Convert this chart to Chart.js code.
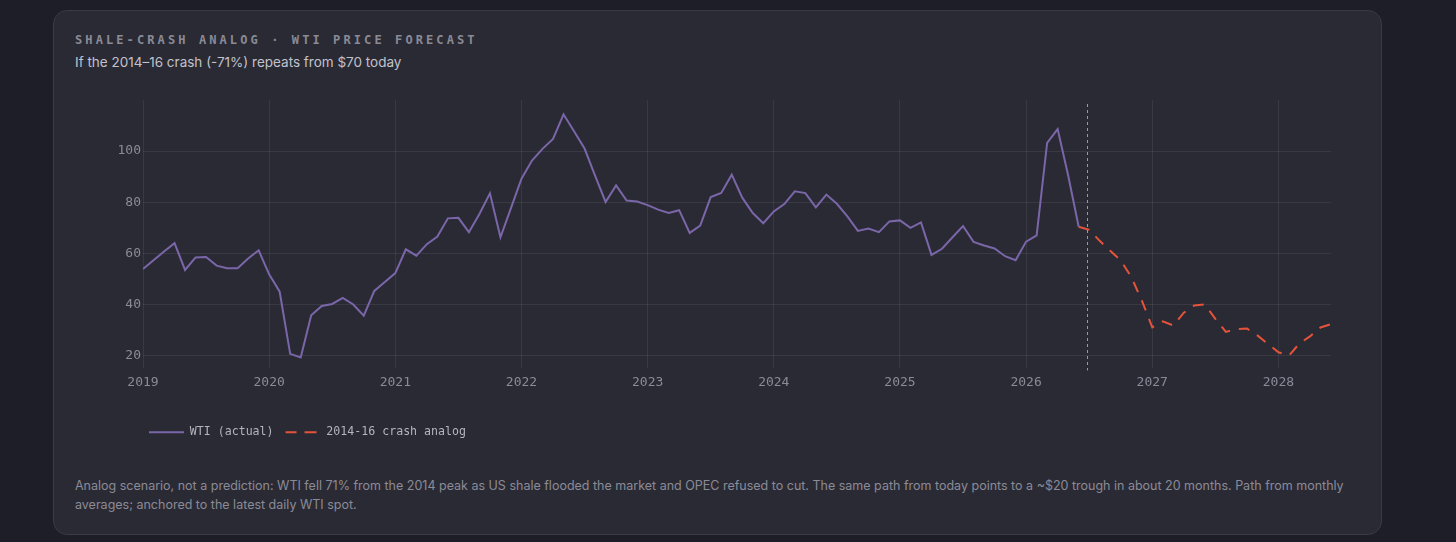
<!DOCTYPE html>
<html>
<head>
<meta charset="utf-8">
<script src="https://cdn.jsdelivr.net/npm/chart.js@4.4.1/dist/chart.umd.min.js"></script>
<style>
  html, body { margin: 0; padding: 0; }
  body { width: 1456px; height: 542px; background: #1e1e29; position: relative; overflow: hidden; }
  .card {
    position: absolute; left: 53px; top: 10px; width: 1327px; height: 523px;
    background: #2a2a34; border: 1px solid #3a3a47; border-radius: 14px;
  }
  .kicker {
    position: absolute; left: 75px; top: 31px; font: bold 12px "DejaVu Sans Mono", monospace;
    letter-spacing: 3.1px; line-height: 18px; color: #8a8a96; white-space: nowrap;
  }
  .subtitle {
    position: absolute; left: 75px; top: 52px; font: 13.5px Inter, sans-serif;
    line-height: 20px; color: #c2c2cc; white-space: nowrap;
  }
  .chart-box { position: absolute; left: 75px; top: 88px; width: 1285px; height: 362px; }
  .note {
    position: absolute; left: 75px; top: 476px; width: 1290px; font: 12.5px Inter, sans-serif;
    line-height: 19px; color: #8b8b97; white-space: nowrap;
  }
</style>
</head>
<body>
<div class="card"></div>
<div class="kicker">SHALE-CRASH ANALOG · WTI PRICE FORECAST</div>
<div class="subtitle">If the 2014–16 crash (-71%) repeats from $70 today</div>
<div class="chart-box"><canvas id="wtiChart"></canvas></div>
<div class="note">Analog scenario, not a prediction: WTI fell 71% from the 2014 peak as US shale flooded the market and OPEC refused to cut. The same path from today points to a ~$20 trough in about 20 months. Path from monthly<br>averages; anchored to the latest daily WTI spot.</div>

<script>
// monthly WTI averages, Jan 2019 -> Jun 2026 (month index 0..89)
const wtiActual = [
  53.9, 57.3, 60.7, 64.0, 53.5, 58.4, 58.6, 55.2, 54.2, 54.2, 58.0, 61.2,
  51.8, 45.0, 20.7, 19.3, 35.8, 39.4, 40.2, 42.6, 40.0, 35.6, 45.3, 48.8,
  52.3, 61.6, 59.1, 63.6, 66.6, 73.7, 73.9, 68.3, 75.4, 83.5, 66.3, 77.7,
  89.2, 96.3, 100.9, 104.8, 114.4, 107.8, 101.0, 90.4, 80.1, 86.6, 80.7, 80.3,
  78.9, 77.1, 75.8, 76.9, 68.0, 70.9, 82.0, 83.6, 90.8, 81.8, 75.8, 71.8,
  76.4, 79.3, 84.3, 83.6, 78.0, 83.0, 79.4, 74.5, 68.8, 69.7, 68.3, 72.5,
  72.9, 70.0, 72.1, 59.4, 61.8, 66.3, 70.7, 64.5, 63.1, 61.9, 58.9, 57.3,
  64.6, 67.0, 103.2, 108.6, 90.5, 70.4
];

// 2014-16 crash path, starting at the last actual month (index 89 -> 113)
const analogStart = 89;
const crashAnalog = [
  70.4, 69.2, 64.9, 61.0, 57.2, 50.8, 41.6, 31.1, 33.4, 31.8, 36.8, 39.6,
  40.0, 34.4, 29.3, 30.4, 30.6, 27.9, 24.6, 21.3, 20.0, 24.8, 27.5, 31.0, 32.3
];

const yearLabels = ['2019', '2020', '2021', '2022', '2023', '2024', '2025', '2026', '2027', '2028'];
const priceTicks = [20, 40, 60, 80, 100];
const todayIndex = 89.75;

const mono = '"DejaVu Sans Mono", monospace';
const gridColor = 'rgba(255,255,255,0.075)';

const todayLine = {
  id: 'todayLine',
  afterDatasetsDraw(chart) {
    const {ctx, chartArea, scales} = chart;
    const x = Math.round(scales.x.getPixelForValue(todayIndex)) + 0.5;
    ctx.save();
    ctx.strokeStyle = '#9a9aa6';
    ctx.lineWidth = 1;
    ctx.setLineDash([3, 3]);
    ctx.beginPath();
    ctx.moveTo(x, chartArea.top + 4);
    ctx.lineTo(x, chartArea.bottom + 2);
    ctx.stroke();
    ctx.restore();
  }
};

// pull the legend a few px left so it lines up under the plot edge
const legendNudge = {
  id: 'legendNudge',
  beforeDraw(chart) {
    if (chart.legend) { chart.legend.left -= 6; chart.legend.right -= 6; }
  }
};

new Chart(document.getElementById('wtiChart'), {
  type: 'line',
  data: {
    datasets: [{
      label: 'WTI (actual)',
      data: wtiActual.map((v, i) => ({x: i, y: v})),
      borderColor: '#7a66a8',
      backgroundColor: '#7a66a8',
      borderWidth: 2,
      pointRadius: 0,
      tension: 0
    }, {
      label: '2014-16 crash analog',
      data: crashAnalog.map((v, i) => ({x: analogStart + i, y: v})),
      borderColor: '#e5533a',
      backgroundColor: '#e5533a',
      borderWidth: 2,
      borderDash: [11, 9],
      pointRadius: 0,
      tension: 0
    }]
  },
  options: {
    responsive: true,
    maintainAspectRatio: false,
    animation: false,
    layout: {padding: {top: 12, right: 29, bottom: 2, left: 0}},
    plugins: {
      tooltip: {enabled: false},
      legend: {
        position: 'bottom',
        align: 'start',
        fullSize: false,
        labels: {
          boxWidth: 35,
          boxHeight: 0,
          padding: 12,
          color: '#b4b4c0',
          font: {family: mono, size: 11.6}
        }
      }
    },
    scales: {
      x: {
        type: 'linear',
        min: 0,
        max: 113,
        afterBuildTicks: s => { s.ticks = yearLabels.map((_, i) => ({value: i * 12})); },
        afterFit: s => { s.height = 46; },
        border: {display: false},
        grid: {color: gridColor, drawTicks: false},
        ticks: {
          padding: 6,
          color: '#8b8b98',
          font: {family: mono, size: 13},
          callback: v => yearLabels[v / 12]
        }
      },
      y: {
        min: 15,
        max: 120,
        afterBuildTicks: s => { s.ticks = priceTicks.map(v => ({value: v})); },
        afterFit: s => { s.width = 68; },
        border: {display: false},
        grid: {color: gridColor, drawTicks: false},
        ticks: {
          padding: 2,
          color: '#8b8b98',
          font: {family: mono, size: 13}
        }
      }
    }
  },
  plugins: [todayLine, legendNudge]
});
</script>
</body>
</html>
